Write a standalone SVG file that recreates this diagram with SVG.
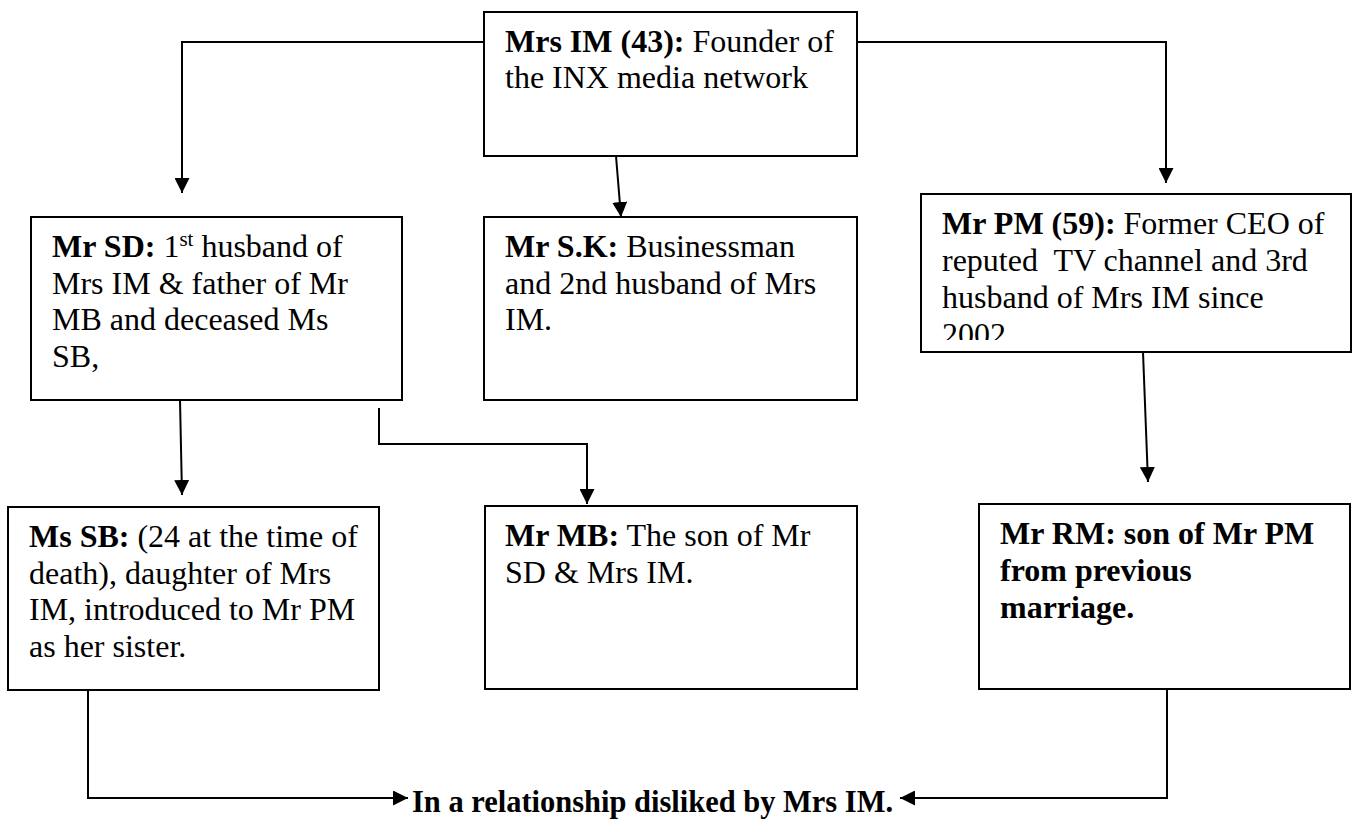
<svg xmlns="http://www.w3.org/2000/svg" width="1357" height="832" viewBox="0 0 1357 832">
<style>
.box{fill:#fff;stroke:#000;stroke-width:2}
.t{font-family:"Liberation Serif","Times New Roman",serif;font-size:32px;fill:#000}
.b{font-weight:bold}
.c{fill:none;stroke:#000;stroke-width:2}
</style>
<defs>
<marker id="ah" viewBox="0 0 16 16" refX="16" refY="8" markerWidth="15" markerHeight="15" markerUnits="userSpaceOnUse" orient="auto">
<path d="M0,0 L16,8 L0,16 z" fill="#000"/>
</marker>
<clipPath id="pmclip"><rect x="921" y="194" width="430" height="146"/></clipPath>
</defs>
<rect width="1357" height="832" fill="#fff"/>
<g id="connectors">
<polyline class="c" points="484,42 182,42 182,193" marker-end="url(#ah)"/>
<polyline class="c" points="857,42 1166,42 1166,183" marker-end="url(#ah)"/>
<line class="c" x1="616" y1="156" x2="621" y2="217" marker-end="url(#ah)"/>
<line class="c" x1="180" y1="400" x2="182" y2="495" marker-end="url(#ah)"/>
<polyline class="c" points="379,408 379,444 587,444 587,504" marker-end="url(#ah)"/>
<line class="c" x1="1143" y1="352" x2="1148" y2="482" marker-end="url(#ah)"/>
<polyline class="c" points="88,690 88,798 408,798" marker-end="url(#ah)"/>
<polyline class="c" points="1167,689 1167,798 900,798" marker-end="url(#ah)"/>
</g>
<g id="node-im">
<rect class="box" x="484" y="12" width="373" height="144"/>
<text class="t" x="505" y="52"><tspan class="b">Mrs IM (43):</tspan> Founder of</text>
<text class="t" x="505" y="88">the INX media network</text>
</g>
<g id="node-sd">
<rect class="box" x="31" y="217" width="371" height="183"/>
<text class="t" x="52" y="257"><tspan class="b">Mr SD:</tspan> 1<tspan font-size="21" dy="-11">st</tspan><tspan dy="11"> husband of</tspan></text>
<text class="t" x="52" y="294">Mrs IM &amp; father of Mr</text>
<text class="t" x="52" y="330">MB and deceased Ms</text>
<text class="t" x="52" y="367">SB,</text>
</g>
<g id="node-sk">
<rect class="box" x="484" y="217" width="373" height="183"/>
<text class="t" x="505" y="257"><tspan class="b">Mr S.K:</tspan> Businessman</text>
<text class="t" x="505" y="294">and 2nd husband of Mrs</text>
<text class="t" x="505" y="330">IM.</text>
</g>
<g id="node-pm">
<rect class="box" x="921" y="194" width="430" height="158"/>
<g clip-path="url(#pmclip)">
<text class="t" x="942" y="234"><tspan class="b">Mr PM (59):</tspan> Former CEO of</text>
<text class="t" x="942" y="271" xml:space="preserve">reputed  TV channel and 3rd</text>
<text class="t" x="942" y="308">husband of Mrs IM since</text>
<text class="t" x="942" y="345">2002.</text>
</g>
</g>
<g id="node-sb">
<rect class="box" x="8" y="507" width="371" height="183"/>
<text class="t" x="29" y="547"><tspan class="b">Ms SB:</tspan> (24 at the time of</text>
<text class="t" x="29" y="584">death), daughter of Mrs</text>
<text class="t" x="29" y="620">IM, introduced to Mr PM</text>
<text class="t" x="29" y="657">as her sister.</text>
</g>
<g id="node-mb">
<rect class="box" x="485" y="506" width="372" height="183"/>
<text class="t" x="505" y="546"><tspan class="b">Mr MB:</tspan> The son of Mr</text>
<text class="t" x="505" y="583">SD &amp; Mrs IM.</text>
</g>
<g id="node-rm">
<rect class="box" x="979" y="504" width="371" height="185"/>
<text class="t b" x="1000" y="544">Mr RM: son of Mr PM</text>
<text class="t b" x="1000" y="581">from previous</text>
<text class="t b" x="1000" y="618">marriage.</text>
</g>
<g id="node-result">
<text class="t b" x="412" y="812" font-size="31" textLength="481" lengthAdjust="spacingAndGlyphs">In a relationship disliked by Mrs IM.</text>
</g>
</svg>
